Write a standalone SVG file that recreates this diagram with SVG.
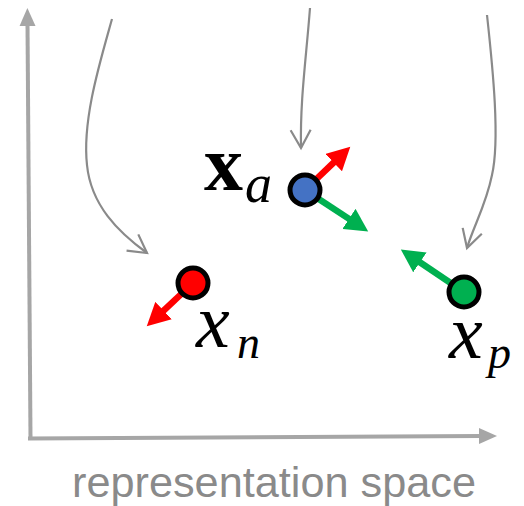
<svg xmlns="http://www.w3.org/2000/svg" width="524" height="506" viewBox="0 0 524 506">
<style>
.axis{stroke:#a6a6a6;stroke-width:4;fill:none}
.curve{stroke:#8a8a8a;stroke-width:2.2;fill:none}
.vec{stroke-width:6.5;fill:none}
.node{stroke:#000;stroke-width:5}
.math{font-family:"Liberation Serif","DejaVu Serif",serif;fill:#000}
</style>
<defs>
<marker id="axhead" markerUnits="userSpaceOnUse" viewBox="0 -9 18 18" refX="2" refY="0" markerWidth="18" markerHeight="18" orient="auto">
<path d="M0,-8 L18,0 L0,8 z" fill="#a6a6a6"/>
</marker>
<marker id="chev" markerUnits="userSpaceOnUse" viewBox="-21 -12 24 24" refX="0" refY="0" markerWidth="24" markerHeight="24" orient="auto" overflow="visible">
<path d="M-18,-10 L0,0 L-18,10" fill="none" stroke="#8a8a8a" stroke-width="2.2"/>
</marker>
<marker id="redhead" markerUnits="userSpaceOnUse" viewBox="0 0 24 24" refX="1" refY="12" markerWidth="24" markerHeight="24" orient="auto">
<path d="M0,0 L23,12 L0,24 z" fill="#ff0000"/>
</marker>
<marker id="greenhead" markerUnits="userSpaceOnUse" viewBox="0 0 24 24" refX="1" refY="12" markerWidth="24" markerHeight="24" orient="auto">
<path d="M0,0 L23,12 L0,24 z" fill="#00b050"/>
</marker>
</defs>
<g id="axes">
<line class="axis" x1="30.5" y1="438" x2="27.5" y2="24" marker-end="url(#axhead)"/>
<line class="axis" x1="28" y1="438.5" x2="481" y2="436" marker-end="url(#axhead)"/>
</g>
<g id="connectors">
<path class="curve" d="M112,19 C100,62 82,120 87,165 C91,205 118,232 147,253" marker-end="url(#chev)"/>
<path class="curve" d="M310,8 C306,60 300,100 301,148" marker-end="url(#chev)"/>
<path class="curve" d="M487,15 C493,70 500,140 492,175 C486,205 474,225 467,248" marker-end="url(#chev)"/>
<line class="vec" stroke="#ff0000" x1="305" y1="190" x2="334.4" y2="161.9" marker-end="url(#redhead)"/>
<line class="vec" stroke="#00b050" x1="305" y1="190" x2="349.8" y2="219.4" marker-end="url(#greenhead)"/>
<line class="vec" stroke="#00b050" x1="464" y1="292" x2="419.1" y2="261.8" marker-end="url(#greenhead)"/>
<line class="vec" stroke="#ff0000" x1="193" y1="283" x2="162.8" y2="311.3" marker-end="url(#redhead)"/>
</g>
<g id="node-xa">
<circle class="node" cx="305" cy="190" r="15" fill="#4472c4"/>
<text class="math" x="204" y="190" font-size="78" font-weight="bold">x</text>
<text class="math" x="245" y="202" font-size="54" font-style="italic">a</text>
</g>
<g id="node-xn">
<circle class="node" cx="193" cy="283" r="15" fill="#ff0000"/>
<text class="math" x="196" y="347" font-size="76" font-style="italic">x</text>
<text class="math" x="237" y="358" font-size="46" font-style="italic">n</text>
</g>
<g id="node-xp">
<circle class="node" cx="464" cy="292" r="15" fill="#00b050"/>
<text class="math" x="449" y="358" font-size="76" font-style="italic">x</text>
<text class="math" x="488" y="368" font-size="46" font-style="italic">p</text>
</g>
<g id="label">
<text x="72" y="497" font-family="Liberation Sans, Arial, sans-serif" font-size="43" fill="#8a8a8a" textLength="404" lengthAdjust="spacingAndGlyphs">representation space</text>
</g>
</svg>
